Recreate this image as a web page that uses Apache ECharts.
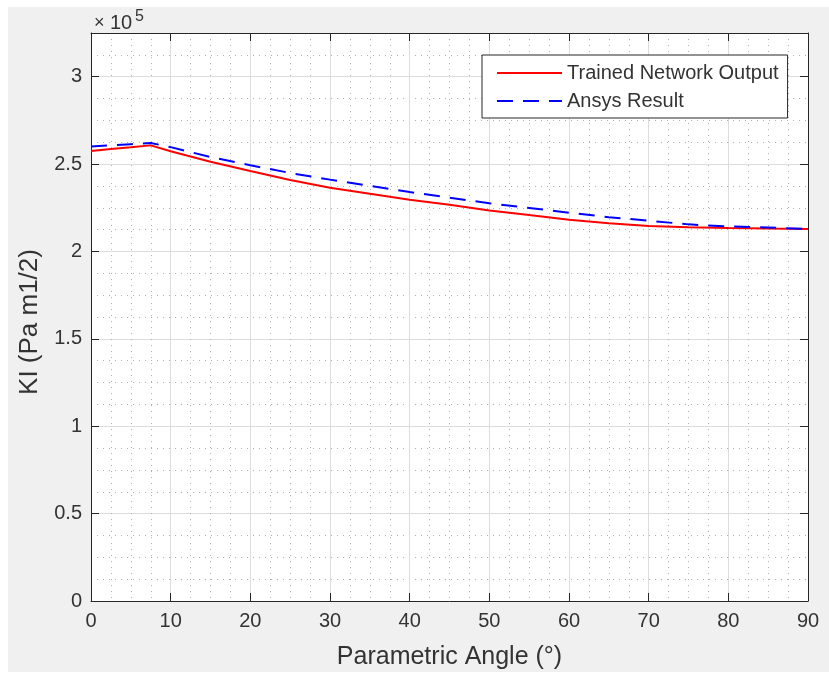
<!DOCTYPE html>
<html>
<head>
<meta charset="utf-8">
<script src="https://cdn.jsdelivr.net/npm/echarts@6/dist/echarts.min.js"></script>
<style>
  html, body { margin: 0; padding: 0; background: #ffffff; }
  #chart { position: absolute; left: 8px; top: 7px; width: 821px; height: 665px; }
</style>
</head>
<body>
<div id="chart"></div>
<script>
// Parametric angle (degrees) at which KI was evaluated
const angles = [0, 2.5, 5, 7.5, 10, 15, 20, 25, 30, 35, 40, 45, 50, 55, 60, 65, 70, 75, 80, 85, 90];

// KI in Pa·m^(1/2)
const networkOutput = [257500, 258600, 259600, 260700, 257300, 251300, 246000, 240900, 236400, 233000, 229600,
                       226700, 223500, 220800, 218200, 216100, 214500, 213800, 213400, 213100, 212900];
const ansysResult   = [260000, 260700, 261400, 262100, 259700, 254000, 249300, 244900, 241100, 237500, 234000,
                       230800, 227600, 224900, 222200, 219600, 217600, 215500, 214300, 213700, 212900];

const seriesNames = ['Trained Network Output', 'Ansys Result'];
const xTitle = 'Parametric Angle (°)';
const yTitle = 'KI (Pa m1/2)';

const axisColor = '#262626';
const textColor = '#333333';
const font = 'Liberation Sans, Arial, Helvetica, sans-serif';

const pairs = (ys) => angles.map((a, i) => [a, ys[i]]);

const chart = echarts.init(document.getElementById('chart'), null, { renderer: 'canvas' });

const boxAxis = {
  axisLine: { show: true, onZero: false, lineStyle: { color: axisColor, width: 1 } },
  axisTick: { show: true, inside: true, length: 8, lineStyle: { color: axisColor, width: 1 } }
};

chart.setOption({
  animation: false,
  backgroundColor: '#f0f0f0',
  grid: {
    left: 83, top: 26, right: 21, bottom: 71,
    outerBoundsMode: 'none', containLabel: false,
    show: true, backgroundColor: '#ffffff', borderWidth: 0
  },
  graphic: [
    // axis exponent: ×10^5
    { type: 'text', left: 86, top: 7, style: { text: '×', fontSize: 18, fontFamily: font, fill: textColor } },
    { type: 'text', left: 102, top: 6, style: { text: '10', fontSize: 20, fontFamily: font, fill: textColor } },
    { type: 'text', left: 127, top: 2, style: { text: '5', fontSize: 16, fontFamily: font, fill: textColor } }
  ],
  legend: {
    orient: 'vertical',
    left: 474, top: 48,
    padding: [8, 9, 7, 14],
    itemGap: 8,
    itemWidth: 65, itemHeight: 20,
    itemStyle: { opacity: 0 },
    backgroundColor: '#ffffff',
    borderColor: axisColor, borderWidth: 1, borderRadius: 0,
    textStyle: { fontSize: 20, fontFamily: font, color: textColor },
    data: seriesNames
  },
  xAxis: [
    Object.assign({
      type: 'value', position: 'bottom', min: 0, max: 90, interval: 10,
      name: xTitle, nameLocation: 'middle', nameGap: 44,
      nameTextStyle: { fontSize: 25, fontFamily: font, color: textColor },
      axisLabel: { fontSize: 20, fontFamily: font, color: textColor, margin: 10 },
      splitLine: { show: true, lineStyle: { color: '#dcdcdc', width: 1 } },
      minorTick: { show: false, splitNumber: 4 },
      minorSplitLine: { show: true, lineStyle: { color: '#b0b0b0', width: 1, type: [1, 5] } }
    }, boxAxis),
    Object.assign({
      type: 'value', position: 'top', min: 0, max: 90, interval: 10,
      axisLabel: { show: false }, splitLine: { show: false }
    }, boxAxis)
  ],
  yAxis: [
    Object.assign({
      type: 'value', position: 'left', min: 0, max: 325000, interval: 50000,
      name: yTitle, nameLocation: 'middle', nameGap: 48, nameRotate: 90,
      nameTextStyle: { fontSize: 26, fontFamily: font, color: textColor, padding: [0, 10, 0, 0] },
      axisLabel: {
        fontSize: 20, fontFamily: font, color: textColor, margin: 9, showMaxLabel: false,
        formatter: (v) => (v % 50000 === 0 ? String(v / 100000) : '')
      },
      splitLine: { show: true, lineStyle: { color: '#dcdcdc', width: 1 } }
    }, boxAxis),
    Object.assign({
      type: 'value', position: 'right', min: 0, max: 325000, interval: 50000,
      axisLabel: { show: false }, splitLine: { show: false }
    }, boxAxis),
    {
      // minor grid every 0.125 ×10^5
      type: 'value', position: 'left', min: 0, max: 325000, interval: 12500,
      axisLine: { show: false }, axisTick: { show: false }, axisLabel: { show: false },
      splitLine: { show: true, lineStyle: { color: ['rgba(0,0,0,0)', '#b0b0b0', '#b0b0b0', '#b0b0b0'], width: 1, type: [1, 5] } }
    }
  ],
  series: [
    {
      name: seriesNames[0], type: 'line', xAxisIndex: 0, yAxisIndex: 0,
      data: pairs(networkOutput), symbol: 'none', smooth: false,
      lineStyle: { color: '#ff0000', width: 2 }, itemStyle: { color: '#ff0000' }, z: 3
    },
    {
      name: seriesNames[1], type: 'line', xAxisIndex: 0, yAxisIndex: 0,
      data: pairs(ansysResult), symbol: 'none', smooth: false,
      lineStyle: { color: '#0000ff', width: 2, type: [16, 10] }, itemStyle: { color: '#0000ff' }, z: 4
    }
  ]
});
</script>
</body>
</html>
